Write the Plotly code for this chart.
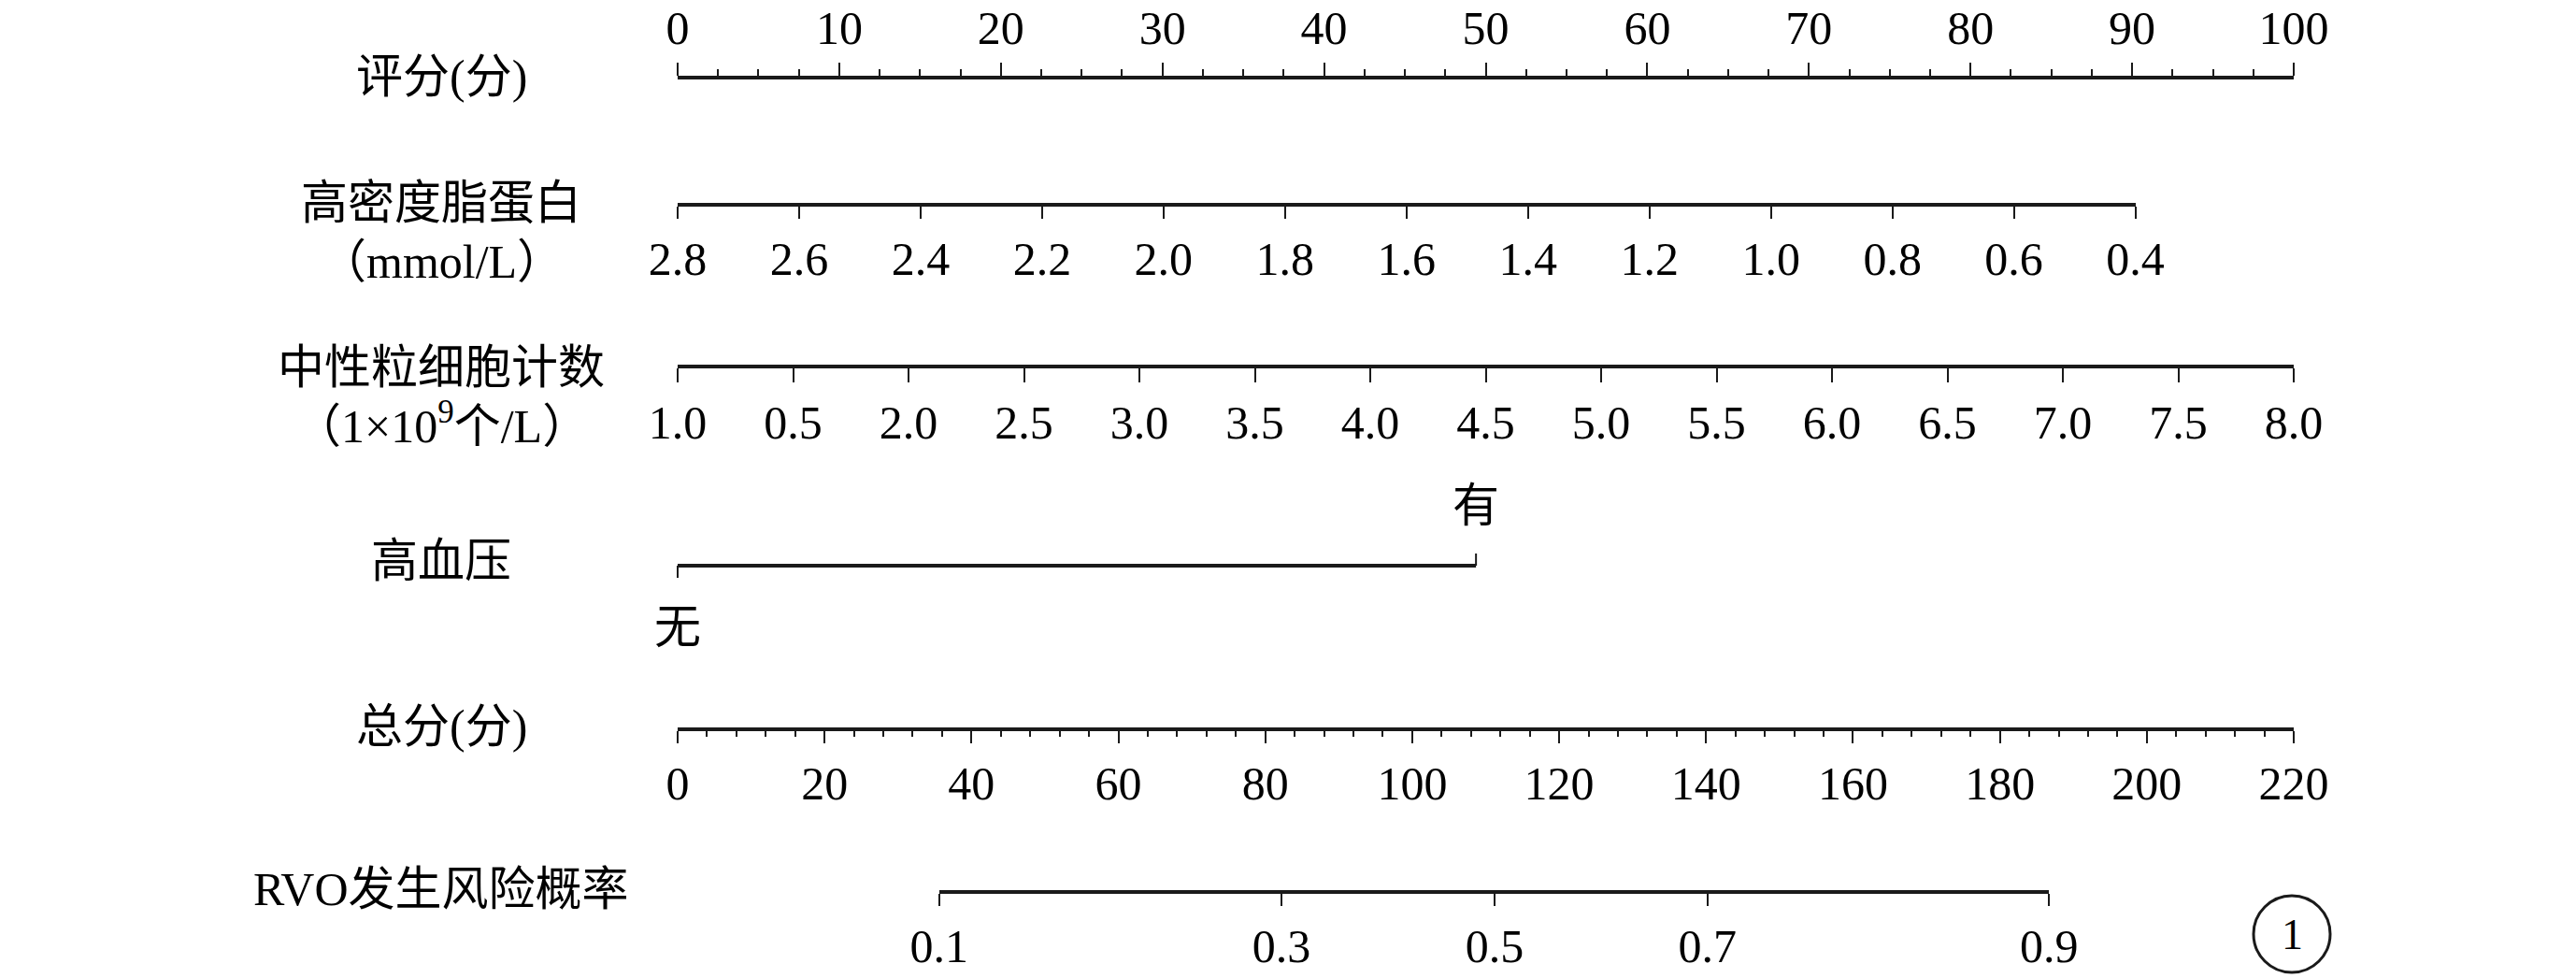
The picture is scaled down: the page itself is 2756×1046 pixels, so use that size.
import plotly.graph_objects as go

# ---------------- data ----------------
points_ticks = list(range(0, 101, 10))

hdl_values = [2.8, 2.6, 2.4, 2.2, 2.0, 1.8, 1.6, 1.4, 1.2, 1.0, 0.8, 0.6, 0.4]
hdl_points_max = 90.2          # points reached at HDL = 0.4

neut_values = [1.0, 1.5, 2.0, 2.5, 3.0, 3.5, 4.0, 4.5, 5.0, 5.5, 6.0, 6.5, 7.0, 7.5, 8.0]
neut_labels = ["1.0", "0.5", "2.0", "2.5", "3.0", "3.5", "4.0", "4.5",
               "5.0", "5.5", "6.0", "6.5", "7.0", "7.5", "8.0"]
neut_points_max = 100

htn_levels = ["无", "有"]
htn_points = [0, 49.4]

total_ticks = list(range(0, 221, 20))

prob_values = [0.1, 0.3, 0.5, 0.7, 0.9]
prob_total_points = [35.6, 82.2, 111.2, 140.2, 186.7]

row_labels = ["评分(分)", "高密度脂蛋白", "（mmol/L）", "中性粒细胞计数", "（1×10<sup>9</sup>个/L）",
              "高血压", "总分(分)", "RVO发生风险概率"]

# ---------------- layout geometry ----------------
W, H = 2756, 1046
PX0, PX1 = 725, 2454          # pixel x of 0 and max on the points / total axes
LABEL_X = 472
FONT = "Liberation Serif, Noto Sans CJK SC, serif"
LC = "#1a1a1a"

def xp(pts):
    return (PX0 + pts * (PX1 - PX0) / 100) / W

def xt(tot):
    return (PX0 + tot * (PX1 - PX0) / 220) / W

def yp(ypix):
    return 1 - ypix / H

row_y = [82, 217, 280, 393, 452, 600, 777, 951]
axis_y = {"points": 83, "hdl": 219, "neut": 392, "htn": 605, "total": 780, "prob": 954}

fig = go.Figure()

tickfont = dict(family=FONT, size=50, color="black")
common = dict(showgrid=False, zeroline=False, showline=True, linecolor=LC, linewidth=4,
              ticks="outside", tickcolor=LC, tickwidth=2, tickfont=tickfont,
              anchor="free", fixedrange=True, autorange=False, automargin=False)

layout_axes = {}
# points axis
layout_axes["xaxis2"] = dict(common, domain=[xp(0), xp(100)], range=[0, 100],
                             position=yp(axis_y["points"]), side="top",
                             tickvals=points_ticks, ticklen=14, ticklabelstandoff=0,
                             minor=dict(ticks="outside", dtick=2.5, tick0=0, ticklen=7,
                                        tickwidth=2, tickcolor=LC, showgrid=False))
# HDL
layout_axes["xaxis3"] = dict(common, domain=[xp(0), xp(hdl_points_max)],
                             range=[hdl_values[0], hdl_values[-1]],
                             position=yp(axis_y["hdl"]), side="bottom",
                             tickvals=hdl_values, ticktext=[f"{v:.1f}" for v in hdl_values],
                             ticklen=13, ticklabelstandoff=0)
# neutrophil
layout_axes["xaxis4"] = dict(common, domain=[xp(0), xp(neut_points_max)],
                             range=[neut_values[0], neut_values[-1]],
                             position=yp(axis_y["neut"]), side="bottom",
                             tickvals=neut_values, ticktext=neut_labels,
                             ticklen=15, ticklabelstandoff=0)
# total points
layout_axes["xaxis5"] = dict(common, domain=[xt(0), xt(220)], range=[0, 220],
                             position=yp(axis_y["total"]), side="bottom",
                             tickvals=total_ticks, ticklen=13, ticklabelstandoff=0,
                             minor=dict(ticks="outside", dtick=4, tick0=0, ticklen=6,
                                        tickwidth=2, tickcolor=LC, showgrid=False))
# probability
layout_axes["xaxis6"] = dict(common, domain=[xt(prob_total_points[0]), xt(prob_total_points[-1])],
                             range=[prob_total_points[0], prob_total_points[-1]],
                             position=yp(axis_y["prob"]), side="bottom",
                             tickvals=prob_total_points, ticktext=[f"{v:.1f}" for v in prob_values],
                             ticklen=13, ticklabelstandoff=0)

# dummy traces so every axis is drawn
for ax in ["x2", "x3", "x4", "x5", "x6"]:
    rng = layout_axes["xaxis" + ax[1:]]["range"]
    fig.add_trace(go.Scatter(x=[rng[0]], y=[-500], xaxis=ax, yaxis="y", mode="markers",
                             marker=dict(opacity=0), hoverinfo="skip", showlegend=False))

# hypertension (categorical) row drawn on the full-width points scale
hy = axis_y["htn"]
fig.add_trace(go.Scatter(x=[htn_points[0], htn_points[1]], y=[hy, hy], mode="lines",
                         line=dict(color=LC, width=4), hoverinfo="skip", showlegend=False))
fig.add_trace(go.Scatter(x=[htn_points[0], htn_points[0], None, htn_points[1], htn_points[1]],
                         y=[hy, hy + 13, None, hy, hy - 13], mode="lines",
                         line=dict(color=LC, width=2), hoverinfo="skip", showlegend=False))

annotations = []
for txt, yy in zip(row_labels, row_y):
    annotations.append(dict(x=LABEL_X / W, y=yy, xref="paper", yref="y", text=txt,
                            showarrow=False, xanchor="center", yanchor="middle",
                            font=dict(family=FONT, size=50, color="black")))
annotations.append(dict(x=htn_points[0], y=671, xref="x", yref="y", text=htn_levels[0],
                        showarrow=False, xanchor="center", yanchor="middle",
                        font=dict(family=FONT, size=50, color="black")))
annotations.append(dict(x=htn_points[1], y=541, xref="x", yref="y", text=htn_levels[1],
                        showarrow=False, xanchor="center", yanchor="middle",
                        font=dict(family=FONT, size=50, color="black")))
# panel number
annotations.append(dict(x=2452 / W, y=999, xref="paper", yref="y", text="1",
                        showarrow=False, xanchor="center", yanchor="middle",
                        font=dict(family=FONT, size=46, color="black")))

scale = (PX1 - PX0) / 100
fig.update_layout(
    width=W, height=H, template="none",
    margin=dict(l=0, r=0, t=0, b=0, pad=0),
    paper_bgcolor="white", plot_bgcolor="rgba(0,0,0,0)",
    font=dict(family=FONT, size=50, color="black"),
    showlegend=False, hovermode=False,
    xaxis=dict(domain=[0, 1], range=[-PX0 / scale, (W - PX0) / scale], visible=False,
               fixedrange=True, automargin=False),
    yaxis=dict(domain=[0, 1], range=[H, 0], visible=False, fixedrange=True, automargin=False),
    annotations=annotations,
    shapes=[dict(type="circle", xref="paper", yref="y", x0=2411 / W, x1=2493 / W,
                 y0=958, y1=1040, line=dict(color=LC, width=3))],
    **layout_axes,
)

fig.write_html("out.html", config={"displayModeBar": False},
               post_script="document.body.style.margin='0';document.body.style.overflow='hidden';")
